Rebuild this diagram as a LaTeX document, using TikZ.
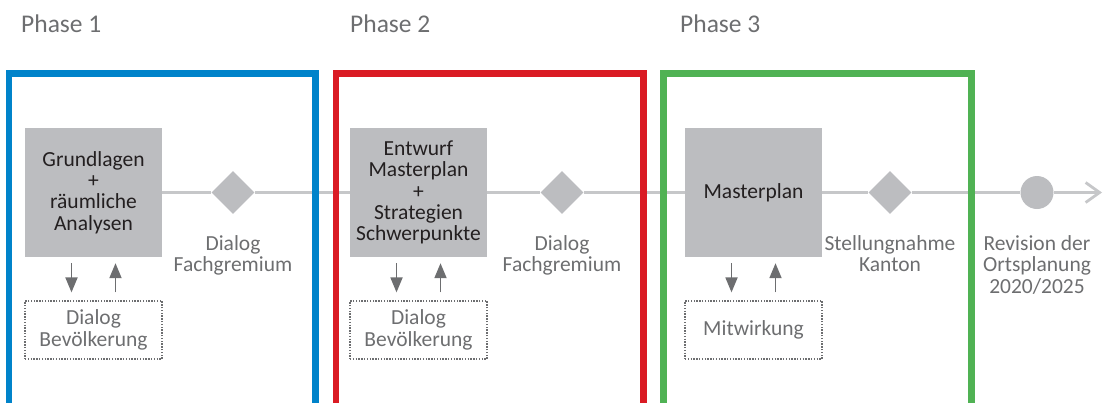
\documentclass[tikz,border=0pt]{standalone}
\usepackage{fontspec}
\setmainfont{Carlito}
\usetikzlibrary{shapes.geometric, arrows.meta, positioning}
\definecolor{phaseblue}{RGB}{0,131,202}
\definecolor{phasered}{RGB}{218,27,36}
\definecolor{phasegreen}{RGB}{80,178,84}
\definecolor{boxgray}{RGB}{188,189,192}
\definecolor{linegray}{RGB}{198,199,201}
\definecolor{textgray}{RGB}{109,110,112}
\definecolor{textdark}{RGB}{35,31,32}

\begin{document}
\begin{tikzpicture}[x=1pt, y=-1pt, node distance=21pt]
                \tikzstyle{stage}=[
                    fill=boxgray, minimum width=137pt, minimum height=129pt,
                    inner sep=0pt, align=center, text=textdark,
                    font=\fontsize{21.5}{21.4}\selectfont]
                \tikzstyle{milestone}=[
                    diamond, fill=boxgray, minimum size=43pt, inner sep=0pt]
                \tikzstyle{finish}=[
                    circle, fill=boxgray, minimum size=33pt, inner sep=0pt]
                \tikzstyle{partner}=[
                    draw=textgray, line width=1.2pt,
                    dash pattern=on 1.4pt off 1.4pt,
                    minimum width=137pt, minimum height=58pt, inner sep=0pt,
                    align=center, text=textgray,
                    font=\fontsize{21.5}{21.4}\selectfont]
                \tikzstyle{caption}=[
                    inner sep=0pt, align=center, text=textgray,
                    font=\fontsize{21.5}{21.4}\selectfont]
                \tikzstyle{timeline}=[line width=2.8pt, linegray]
                \tikzstyle{exchange}=[
                    -{Triangle[length=15pt, width=12pt]}, line width=1.8pt,
                    textgray]
                \tikzstyle{frame}=[line width=6.5pt]

                \useasboundingbox (0,0) rectangle (1107,402);
                \clip (0,0) rectangle (1107,402);

                \foreach \n / \x in {1/21, 2/350, 3/680}
                    \node [anchor=base west, inner sep=0pt, text=textgray,
                        font=\fontsize{25.5}{30}\selectfont]
                        (phase-\n) at (\x, 32) {Phase \n};

                \node [stage] (S1) at (93.5, 192.5)
                    {Grundlagen\\+\\räumliche\\Analysen};
                \node [stage] (S2) at (418.5, 192.5)
                    {Entwurf\\Masterplan\\+\\Strategien\\Schwerpunkte};
                \node [stage] (S3) at (753.5, 192.5) {Masterplan};

                \node [milestone] (M1) at (233, 192.5) {};
                \node [milestone] (M2) at (562, 192.5) {};
                \node [milestone] (M3) at (890, 192.5) {};
                \node [finish] (R) at (1037, 192.5) {};
                \coordinate (end) at (1102, 192.5);

                \node [partner] (P1) at (93.5, 330) {Dialog\\Bevölkerung};
                \node [partner] (P2) at (418.5, 330) {Dialog\\Bevölkerung};
                \node [partner] (P3) at (753.5, 330) {Mitwirkung};

                \node [caption, below=of M1] (C1) {Dialog\\Fachgremium};
                \node [caption, below=of M2] (C2) {Dialog\\Fachgremium};
                \node [caption, below=of M3] (C3) {Stellungnahme\\Kanton};
                \node [caption, below=26pt of R] (C4)
                    {Revision der\\Ortsplanung\\2020/2025};

                \draw [timeline] (S1) -- (M1) -- (S2) -- (M2) -- (S3) -- (M3) -- (R);
                \draw [timeline, -{Straight Barb[length=14pt, width=20pt]}]
                    (R) -- (end);

                \foreach \i in {1, ..., 3} {
                    \draw [exchange, shorten <=6pt, shorten >=8pt]
                        ([xshift=-22pt]S\i.south) -- ([xshift=-22pt]P\i.north);
                    \draw [exchange, shorten <=8pt, shorten >=6pt]
                        ([xshift=22pt]P\i.north) -- ([xshift=22pt]S\i.south);
                }

                \foreach \l / \r / \col in
                    {9/315.5/phaseblue, 336/643.5/phasered, 663.5/971.5/phasegreen}
                    \draw [frame, \col] (\l, 410) -- (\l, 73.5) -- (\r, 73.5) -- (\r, 410);
\end{tikzpicture}
\end{document}
